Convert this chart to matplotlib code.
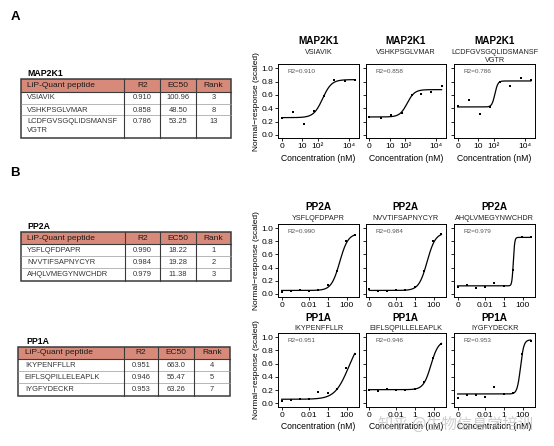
import numpy as np
import matplotlib
matplotlib.use("Agg")
import matplotlib.pyplot as plt
from matplotlib.patches import Rectangle

plt.rcParams['font.family'] = ['Liberation Sans', 'DejaVu Sans']

W, H = 554, 446

# ------------------------------------------------------------------ data
table_header = ["LiP-Quant peptide", "R2", "EC50", "Rank"]

map2k1_peptides = ["VSIAVIK", "VSHKPSGLVMAR", "LCDFGVSGQLIDSMANSF\nVGTR"]
map2k1_r2 = ["0.910", "0.858", "0.786"]
map2k1_ec50 = ["100.96", "48.50", "53.25"]
map2k1_rank = ["3", "8", "13"]

pp2a_peptides = ["YSFLQFDPAPR", "NVVTIFSAPNYCYR", "AHQLVMEGYNWCHDR"]
pp2a_r2 = ["0.990", "0.984", "0.979"]
pp2a_ec50 = ["18.22", "19.28", "11.38"]
pp2a_rank = ["1", "2", "3"]

pp1a_peptides = ["IKYPENFFLLR", "EIFLSQPILLELEAPLK", "IYGFYDECKR"]
pp1a_r2 = ["0.951", "0.946", "0.953"]
pp1a_ec50 = ["663.0", "55.47", "63.26"]
pp1a_rank = ["4", "5", "7"]

# concentrations (nM)
conc_map2k1 = [0, 2.6, 12, 58, 260, 1100, 5200, 24000]
conc_pp = [0, 1.4e-4, 1.3e-3, 0.011, 0.1, 1, 8.6, 75, 650]

# scaled responses
resp_vsiavik = [0.25, 0.35, 0.16, 0.36, 0.58, 0.82, 0.81, 0.83]
resp_vshkpsglvmar = [0.27, 0.25, 0.30, 0.33, 0.60, 0.62, 0.65, 0.73]
resp_lcdfg = [0.43, 0.52, 0.31, 0.42, 0.79, 0.73, 0.86, 0.82]

resp_ysflq = [0.03, 0.04, 0.06, 0.04, 0.05, 0.13, 0.35, 0.80, 0.90]
resp_nvvti = [0.07, 0.04, 0.04, 0.05, 0.05, 0.11, 0.34, 0.80, 0.91]
resp_ahqlv = [0.11, 0.13, 0.09, 0.11, 0.16, 0.12, 0.36, 0.86, 0.86]

resp_ikype = [0.04, 0.05, 0.07, 0.07, 0.17, 0.15, 0.22, 0.53, 0.75]
resp_eifls = [0.20, 0.19, 0.21, 0.20, 0.20, 0.21, 0.32, 0.68, 0.90]
resp_iygfy = [0.08, 0.12, 0.12, 0.10, 0.24, 0.14, 0.15, 0.74, 0.95]

# fitted log-logistic curves: (bottom, top, log10 midpoint, hill slope)
fit_map2k1 = [(0.26, 0.83, 2.30, 1.5), (0.27, 0.68, 2.13, 1.8), (0.42, 0.81, 2.06, 4.5)]
fit_pp2a = [(0.05, 0.92, 1.25, 1.0), (0.05, 0.93, 1.30, 1.0), (0.12, 0.86, 1.00, 6.0)]
fit_pp1a = [(0.06, 1.05, 2.20, 0.6), (0.205, 0.95, 1.70, 1.1), (0.14, 0.96, 1.75, 2.5)]

map2k1_xticks = [0, 10, 100, 10000]
map2k1_xticklabels = ["0", "10", "10²", "10⁴"]
pp_xticks = [0, 0.01, 1, 100]
pp_xticklabels = ["0", "0.01", "1", "100"]
yticks = [0.0, 0.2, 0.4, 0.6, 0.8, 1.0]

# ------------------------------------------------------------------ helpers
def fx(px):
    return px / W

def fy(py):
    return 1 - py / H

def xpos(conc, zero_pos):
    c = np.asarray(conc, float)
    out = np.full(c.shape, zero_pos)
    out[c > 0] = np.log10(c[c > 0])
    return out

def logistic(x, b, t, m, s):
    return b + (t - b) / (1 + 10 ** (s * (m - x)))

fig = plt.figure(figsize=(W / 100, H / 100), dpi=100)
fig.patch.set_facecolor("white")

# overlay for tables / letters (pixel coordinates)
ov = fig.add_axes([0, 0, 1, 1], zorder=0)
ov.set_xlim(0, W)
ov.set_ylim(H, 0)
ov.axis("off")

ov.text(15, 17, "A", fontsize=9.5, fontweight="bold", ha="center", va="center")
ov.text(15, 173, "B", fontsize=9.5, fontweight="bold", ha="center", va="center")

HEAD_COLOR = "#d78a79"
EDGE = "#3a3a3a"

def draw_table(title, tx, ty, left, right, cols, htop, hbot, seps, bottom,
               peps, r2, ec50, rank):
    ov.text(tx, ty, title, fontsize=6.3, fontweight="bold", ha="left", va="center")
    ov.add_patch(Rectangle((left, htop), right - left, hbot - htop,
                           facecolor=HEAD_COLOR, edgecolor="none"))
    hy = (htop + hbot) / 2
    centers = [(cols[0] + cols[1]) / 2, (cols[1] + cols[2]) / 2, (cols[2] + right) / 2]
    ov.text(left + 6.5, hy, table_header[0], fontsize=6.0, ha="left", va="center",
            color="#1a1a1a")
    for c, h in zip(centers, table_header[1:]):
        ov.text(c, hy, h, fontsize=6.0, ha="center", va="center", color="#1a1a1a")
    for s in seps:
        ov.plot([left, right], [s, s], color="#9a9a9a", lw=0.5)
    ov.plot([left, right], [hbot, hbot], color=EDGE, lw=0.8)
    for c in cols:
        ov.plot([c, c], [htop, bottom], color=EDGE, lw=0.8)
    ov.add_patch(Rectangle((left, htop), right - left, bottom - htop,
                           facecolor="none", edgecolor=EDGE, lw=1.1))
    tops = [hbot] + list(seps)
    for i in range(len(peps)):
        yc = tops[i] + 6.2
        for j, line in enumerate(peps[i].split("\n")):
            ov.text(left + 6.5, yc + j * 9.4, line, fontsize=5.4, ha="left",
                    va="center", color="#333333")
        for c, v in zip(centers, [r2[i], ec50[i], rank[i]]):
            ov.text(c, yc, v, fontsize=5.4, ha="center", va="center", color="#333333")

draw_table("MAP2K1", 27, 73, 20.7, 231, [124.3, 160.3, 195.7], 79.3, 91.7,
           [104, 115.3], 138.3, map2k1_peptides, map2k1_r2, map2k1_ec50, map2k1_rank)
draw_table("PP2A", 27, 226.7, 20.7, 231, [125, 160.3, 195.7], 231.7, 244.3,
           [256, 268.3], 280.7, pp2a_peptides, pp2a_r2, pp2a_ec50, pp2a_rank)
draw_table("PP1A", 26, 341.7, 18.3, 230, [124, 158.3, 194], 346.7, 359,
           [371, 383], 395.7, pp1a_peptides, pp1a_r2, pp1a_ec50, pp1a_rank)

# ------------------------------------------------------------------ panels
col_lr = [(278.3, 359.0), (366.0, 445.7), (454.3, 535.0)]

rows = [
    dict(gene="MAP2K1", peps=map2k1_peptides, r2=map2k1_r2, conc=conc_map2k1,
         resp=[resp_vsiavik, resp_vshkpsglvmar, resp_lcdfg], fits=fit_map2k1,
         zero=-0.34, xlim=(-0.56, 4.65), xt=map2k1_xticks, xtl=map2k1_xticklabels,
         top=64.3, bottom=138.3, title_y=41.3, pep_y=52.0, xlabel=True),
    dict(gene="PP2A", peps=pp2a_peptides, r2=pp2a_r2, conc=conc_pp,
         resp=[resp_ysflq, resp_nvvti, resp_ahqlv], fits=fit_pp2a,
         zero=-4.8, xlim=(-5.15, 3.26), xt=pp_xticks, xtl=pp_xticklabels,
         top=224.3, bottom=297.0, title_y=206.7, pep_y=218.3, xlabel=False),
    dict(gene="PP1A", peps=pp1a_peptides, r2=pp1a_r2, conc=conc_pp,
         resp=[resp_ikype, resp_eifls, resp_iygfy], fits=fit_pp1a,
         zero=-4.8, xlim=(-5.15, 3.26), xt=pp_xticks, xtl=pp_xticklabels,
         top=333.3, bottom=406.5, title_y=317.7, pep_y=328.7, xlabel=True),
]

for row in rows:
    for k in range(3):
        l, r = col_lr[k]
        ax = fig.add_axes([fx(l), fy(row["bottom"]), (r - l) / W,
                           (row["bottom"] - row["top"]) / H], zorder=2)
        xs = xpos(row["conc"], row["zero"])
        ys = np.asarray(row["resp"][k])
        b, t, m, s = row["fits"][k]
        xc = np.linspace(row["zero"], xs[-1], 400)
        ax.plot(xc, logistic(xc, b, t, m, s), color="black", lw=0.9)
        ax.plot(xs, ys, "s", color="black", ms=1.8, mew=0)
        ax.set_xlim(*row["xlim"])
        ax.set_ylim(-0.05, 1.06)
        ax.set_xticks(xpos(row["xt"], row["zero"]))
        ax.set_xticklabels(row["xtl"])
        ax.set_yticks(yticks)
        if k == 0:
            ax.set_yticklabels([f"{v:.1f}" for v in yticks])
            ax.set_ylabel("Normal−response (scaled)", fontsize=6.0, labelpad=1.0)
        else:
            ax.set_yticklabels([])
        ax.tick_params(axis="both", length=2.2, width=0.6, pad=1.5, labelsize=6.0,
                       direction="out", colors="black")
        for sp in ax.spines.values():
            sp.set_linewidth(0.7)
        if row["xlabel"]:
            ax.set_xlabel("Concentration (nM)", fontsize=6.2, labelpad=2.5)
        ax.text(0.12, 0.9, f"R2={row['r2'][k]}", transform=ax.transAxes,
                fontsize=4.6, color="#555555", ha="left", va="center")
        cx = (l + r) / 2
        fig.text(fx(cx), fy(row["title_y"]), row["gene"], fontsize=7.2,
                 fontweight="bold", ha="center", va="center")
        for j, line in enumerate(row["peps"][k].split("\n")):
            fig.text(fx(cx), fy(row["pep_y"] + j * 8.8), line, fontsize=5.2,
                     ha="center", va="center", color="#222222")

# watermark
fig.text(fx(456), fy(424), "知乎 @生物信息学培训", fontsize=11, color="#c4c4c4",
         alpha=0.8, ha="center", va="center", zorder=5,
         family=["Noto Sans CJK SC", "DejaVu Sans"])

fig.savefig("out.png", dpi=100, facecolor="white")
